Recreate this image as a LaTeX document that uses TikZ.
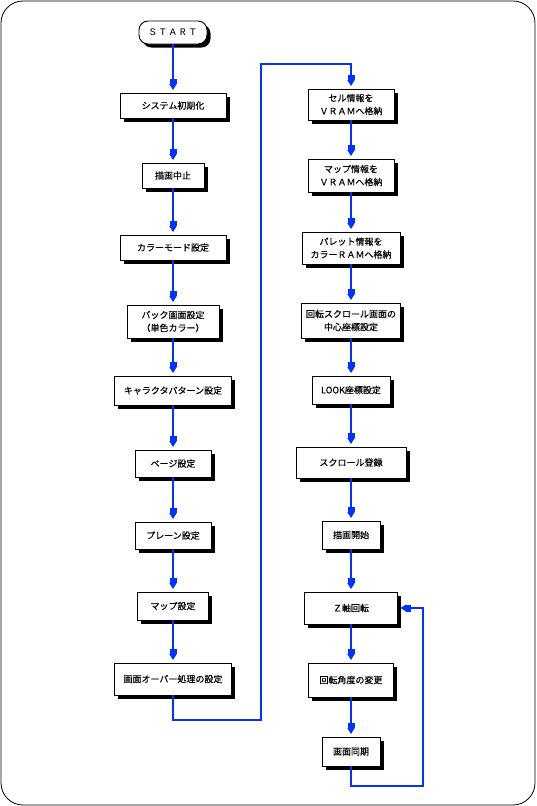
\documentclass[tikz,border=0pt]{standalone}
\usepackage{fontspec}
\newfontfamily\jp[FakeBold=0.4]{Noto Sans CJK JP}
\newfontfamily\startfont[LetterSpace=40]{Liberation Mono}
\usetikzlibrary{arrows.meta,shadows}
\definecolor{flowblue}{RGB}{0,51,255}
\begin{document}
\begin{tikzpicture}[x=1pt,y=-1pt,
  box/.style={draw=black,line width=0.9pt,fill=white,inner sep=0pt,
    font=\jp\fontsize{9}{13}\selectfont,align=center,
    drop shadow={shadow xshift=3.5pt,shadow yshift=-3.5pt,fill=black,opacity=1}},
  conn/.style={draw=flowblue,line width=1.3pt,
    -{Rectangle[width=7pt,length=5pt]Triangle[width=7pt,length=6pt]},shorten >=2.5pt}]
\useasboundingbox (0,0) rectangle (536,806);
\draw[line width=0.8pt,rounded corners=22pt] (1,1) rectangle (535,805);

% left column
\node[box,rounded corners=9pt,minimum width=68pt,minimum height=23pt,
  font=\startfont\fontsize{10}{12}\selectfont] (start) at (173,32.5) {START};
\node[box,minimum width=106pt,minimum height=25pt] (init) at (173,105.5) {システム初期化};
\node[box,minimum width=62pt,minimum height=25pt] (stop) at (173,175.5) {描画中止};
\node[box,minimum width=106pt,minimum height=25pt] (cmode) at (173,247.5) {カラーモード設定};
\node[box,minimum width=92pt,minimum height=33pt] (back) at (173,321.5) {バック画面設定\\（単色カラー）};
\node[box,minimum width=117pt,minimum height=29pt] (chr) at (173,390.5) {キャラクタパターン設定};
\node[box,minimum width=76pt,minimum height=27pt] (page) at (173,463.5) {ページ設定};
\node[box,minimum width=76pt,minimum height=27pt] (plane) at (173,535.5) {プレーン設定};
\node[box,minimum width=71pt,minimum height=28pt] (map) at (173,606) {マップ設定};
\node[box,minimum width=117pt,minimum height=32pt] (over) at (173,679) {画面オーバー処理の設定};

% right column
\node[box,minimum width=86pt,minimum height=31pt] (cell) at (351,104.5) {セル情報を\\ＶＲＡＭへ格納};
\node[box,minimum width=86pt,minimum height=33pt] (mapi) at (351,175.5) {マップ情報を\\ＶＲＡＭへ格納};
\node[box,minimum width=98pt,minimum height=32pt] (pal) at (351,248) {パレット情報を\\カラーＲＡＭへ格納};
\node[box,minimum width=99pt,minimum height=35pt] (ctr) at (351,320.5) {回転スクロール画面の\\中心座標設定};
\node[box,minimum width=78pt,minimum height=28pt] (look) at (351,390) {LOOK座標設定};
\node[box,minimum width=110pt,minimum height=31pt] (scr) at (351,462.5) {スクロール登録};
\node[box,minimum width=58pt,minimum height=28pt] (draw) at (351,535) {描画開始};
\node[box,minimum width=93pt,minimum height=32pt] (zrot) at (351,608) {Ｚ軸回転};
\node[box,minimum width=85pt,minimum height=34pt] (ang) at (351,680) {回転角度の変更};
\node[box,minimum width=58pt,minimum height=29pt] (sync) at (351,751.5) {画面同期};

% connectors
\draw[conn] (start) -- (init);
\draw[conn] (init) -- (stop);
\draw[conn] (stop) -- (cmode);
\draw[conn] (cmode) -- (back);
\draw[conn] (back) -- (chr);
\draw[conn] (chr) -- (page);
\draw[conn] (page) -- (plane);
\draw[conn] (plane) -- (map);
\draw[conn] (map) -- (over);

\coordinate (c1) at (261,720);
\coordinate (c2) at (261,64);
\draw[conn] (over.south) |- (c1) -- (c2) -| (cell.north);

\draw[conn] (cell) -- (mapi);
\draw[conn] (mapi) -- (pal);
\draw[conn] (pal) -- (ctr);
\draw[conn] (ctr) -- (look);
\draw[conn] (look) -- (scr);
\draw[conn] (scr) -- (draw);
\draw[conn] (draw) -- (zrot);
\draw[conn] (zrot) -- (ang);
\draw[conn] (ang) -- (sync);

\coordinate (l1) at (423,786);
\draw[conn] (sync.south) |- (l1) |- (zrot.east);
\end{tikzpicture}
\end{document}
